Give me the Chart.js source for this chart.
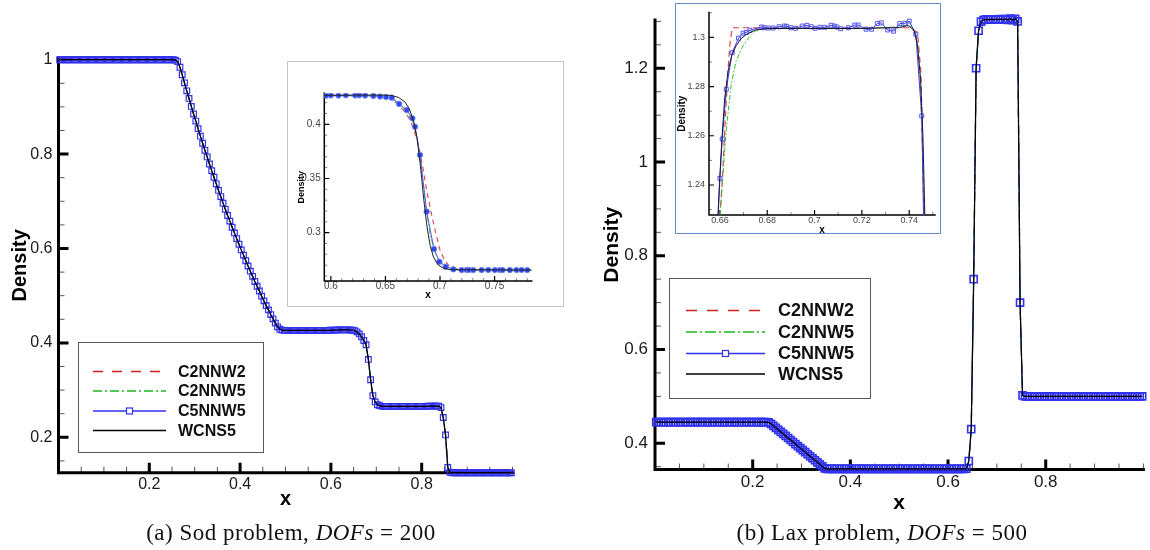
<!DOCTYPE html>
<html>
<head>
<meta charset="utf-8">
<script src="https://cdn.jsdelivr.net/npm/chart.js@4.4.1/dist/chart.umd.min.js"></script>
<style>
  html, body { margin: 0; padding: 0; background: #fff; }
  body { width: 1150px; height: 550px; position: relative; overflow: hidden; }
  .holder { position: absolute; }
  .frame { position: absolute; background: #fff; box-sizing: border-box; }
  .cap { position: absolute; font-family: 'Liberation Serif', serif; font-size: 23px; letter-spacing: 0.5px;
         white-space: nowrap; color: #111; transform: translateX(-50%); line-height: 26px; }
</style>
</head>
<body>
<div class="holder" style="left:0;top:0;width:570px;height:530px"><canvas id="sodMain"></canvas></div>
<div class="holder" style="left:590px;top:0;width:560px;height:530px"><canvas id="laxMain"></canvas></div>
<div class="frame" style="left:287px;top:61px;width:277px;height:246px;border:1px solid #c4c4c4"></div>
<div class="holder" style="left:288px;top:62px;width:275px;height:244px"><canvas id="sodZoom"></canvas></div>
<div class="frame" style="left:675px;top:3px;width:266px;height:231px;border:1px solid #6a89c8"></div>
<div class="holder" style="left:676px;top:4px;width:264px;height:231px"><canvas id="laxZoom"></canvas></div>
<div class="cap" style="left:291px;top:520px">(a) Sod problem, <i>DOFs</i> = 200</div>
<div class="cap" style="left:882px;top:520px">(b) Lax problem, <i>DOFs</i> = 500</div>
<script>
// ---- data ----
const seriesNames = ['C2NNW2', 'C2NNW5', 'C5NNW5', 'WCNS5'];

// Sod, 200 cells (cell centres)
const sodRho = [
  1,1,1,1,1,1,1,1,1,1, 1,1,1,1,1,1,1,1,1,1, 1,1,1,1,1,1,1,1,1,1, 1,1,1,1,1,1,1,1,1,1,
  1,1,1,1,1,1,1,1,1,1, 1,0.999,
  0.996,0.984,0.968,0.951,0.934,0.918,0.901,0.885,0.870,0.854,
  0.838,0.823,0.808,0.794,0.779,0.765,0.751,0.737,0.723,0.710,
  0.696,0.683,0.670,0.658,0.645,0.633,0.621,0.609,0.597,0.586,
  0.574,0.563,0.552,0.541,0.530,0.520,0.510,0.499,0.489,0.479,
  0.470,0.460,0.451,0.442,0.434,0.429,0.427,
  0.4265,0.4265,0.4265,0.4265,0.4265,0.4265,0.4265,0.4265,0.4265,0.4265,
  0.4265,0.4265,0.4265,0.4265,0.4265,0.4265,0.4265,0.4265,0.4265,0.4265,
  0.4268,0.427,0.4272,0.4273,0.4275,0.4276,0.4277,0.4277,0.4276,0.4273,0.4268,0.426,
  0.4235,0.419,0.413,0.405,0.396,0.365,0.322,0.288,0.275,0.269,0.267,
  0.2656,0.2656,0.2656,0.2656,0.2656,0.2656,0.2656,0.2656,0.2656,0.2656,
  0.2656,0.2656,0.2656,0.2656,0.2656,0.2656,0.2656,0.2656,0.2656,0.2656,
  0.2658,0.266,0.2662,0.2663,0.2662,0.266,
  0.263,0.242,0.205,0.136,0.126,
  0.125,0.125,0.125,0.125,0.125,0.125,0.125,0.125,0.125,0.125,
  0.125,0.125,0.125,0.125,0.125,0.125,0.125,0.125,0.125,0.125,
  0.125,0.125,0.125,0.125,0.125,0.125,0.125
];
const sodX = sodRho.map((v, i) => (i + 0.5) / sodRho.length);

// Lax, drawn on a 200-cell mesh
const laxRho = [
  0.445,0.445,0.445,0.445,0.445,0.445,0.445,0.445,0.445,0.445,
  0.445,0.445,0.445,0.445,0.445,0.445,0.445,0.445,0.445,0.445,
  0.445,0.445,0.445,0.445,0.445,0.445,0.445,0.445,0.445,0.445,
  0.445,0.445,0.445,0.445,0.445,0.445,0.445,0.445,0.445,0.445,
  0.445,0.445,0.445,0.445,0.445,0.445, 0.4445,
  0.4415,0.4372,0.4329,0.4286,0.4242,0.4199,0.4156,0.4112,0.4069,0.4026,
  0.3983,0.3939,0.3896,0.3853,0.381,0.3766,0.3723,0.368,0.3637,0.3593,0.355,0.3505,0.3465,
  0.3455,0.3455,0.3455,0.3455,0.3455,0.3455,0.3455,0.3455,0.3455,0.3455,
  0.3455,0.3455,0.3455,0.3455,0.3455,0.3455,0.3455,0.3455,0.3455,0.3455,
  0.3455,0.3455,0.3455,0.3455,0.3455,0.3455,0.3455,0.3455,0.3455,0.3455,
  0.3455,0.3455,0.3455,0.3455,0.3455,0.3455,0.3455,0.3455,0.3455,0.3455,
  0.3455,0.3455,0.3455,0.3455,0.3455,0.3455,0.3455,0.3455,0.3455,0.3455,
  0.3455,0.3455,0.3455,0.3455,0.3455,0.3455,0.3455,0.3458,
  0.362,0.43,0.75,1.2,1.28,1.2997,
  1.303,1.3042,1.3038,1.3046,1.3037,1.3046,1.3041,1.3048,1.3037,1.305,1.3033,1.3058,1.3028,1.3056,
  1.30,0.70,0.502,
  0.5,0.5,0.5,0.5,0.5,0.5,0.5,0.5,0.5,0.5, 0.5,0.5,0.5,0.5,0.5,0.5,0.5,0.5,0.5,0.5,
  0.5,0.5,0.5,0.5,0.5,0.5,0.5,0.5,0.5,0.5, 0.5,0.5,0.5,0.5,0.5,0.5,0.5,0.5,0.5,0.5,
  0.5,0.5,0.5,0.5,0.5,0.5,0.5,0.5,0.5
];
const laxX = laxRho.map((v, i) => (i + 0.5) / laxRho.length);

// Sod close-up near the contact
const sodZoomX2 = [0.594,0.62,0.64,0.65,0.656,0.663,0.668,0.672,0.676,0.680,0.684,0.688,0.692,0.696,0.700,0.704,0.708,0.713,0.72,0.784];
const sodZoomY2 = [0.4265,0.4262,0.4258,0.425,0.423,0.417,0.411,0.405,0.395,0.382,0.362,0.338,0.318,0.300,0.284,0.275,0.2695,0.267,0.2657,0.2656];
const sodZoomX5 = [0.594,0.64,0.65,0.658,0.664,0.67,0.675,0.679,0.683,0.687,0.691,0.695,0.699,0.704,0.71,0.72,0.784];
const sodZoomY5 = [0.4265,0.4262,0.425,0.4225,0.418,0.411,0.402,0.388,0.36,0.325,0.298,0.283,0.275,0.2695,0.267,0.2658,0.2656];
const sodZoomXC5 = [0.5957,0.6,0.607,0.6137,0.6223,0.6259,0.6314,0.639,0.6451,0.6506,0.6558,0.6625,0.6695,0.6747,0.6771,0.6817,0.6878,
  0.6945,0.6994,0.7052,0.7122,0.7198,0.7244,0.7265,0.7305,0.7381,0.7442,0.7503,0.7549,0.7573,0.764,0.7701,0.7747,0.7799];
const sodZoomYC5 = [0.4265,0.4267,0.4266,0.4268,0.4267,0.4268,0.4266,0.4262,0.4256,0.4252,0.4246,0.4188,0.4132,0.4055,0.3978,0.3717,0.3194,
  0.2849,0.2732,0.2686,0.2662,0.2655,0.2656,0.2656,0.2655,0.2655,0.2656,0.2655,0.2656,0.2655,0.2655,0.2655,0.2656,0.2655];
const sodZoomXW = [0.594,0.62,0.64,0.655,0.662,0.668,0.672,0.676,0.679,0.682,0.685,0.688,0.691,0.694,0.698,0.703,0.71,0.784];
const sodZoomYW = [0.4267,0.4269,0.427,0.4267,0.4248,0.4205,0.414,0.402,0.387,0.362,0.332,0.306,0.288,0.2775,0.2705,0.2672,0.2658,0.2655];

// Lax close-up of the plateau
const laxZoomX2 = [0.6597,0.6601,0.6612,0.6622,0.6632,0.6642,0.6652,0.67,0.74,0.7435,0.745,0.7462,0.7466];
const laxZoomY2 = [1.215,1.2278,1.245,1.265,1.283,1.297,1.3039,1.3039,1.3039,1.302,1.285,1.2278,1.215];
const laxZoomX5 = [0.6598,0.6601,0.6614,0.6627,0.6648,0.6668,0.6695,0.6723,0.675,0.6791,0.70,0.72,0.735,0.7395,0.742,0.7435,0.7445,0.7455,0.7465,0.7469];
const laxZoomY5 = [1.215,1.2278,1.2456,1.2626,1.281,1.2902,1.2961,1.300,1.3026,1.3038,1.3038,1.3037,1.3042,1.3052,1.3035,1.298,1.285,1.26,1.2278,1.215];
const laxZoomXC5 = [0.6587,0.66,0.661,0.6627,0.6652,0.6679,0.6698,0.6712,0.6727,0.6777,0.6787,0.6805,0.6825,0.685,0.6873,0.6882,0.69,0.692,
  0.6948,0.6968,0.6986,0.7002,0.7023,0.7043,0.707,0.7084,0.7094,0.7111,0.7143,0.717,0.7184,0.7218,0.7241,0.7265,0.7282,0.7309,0.7334,
  0.736,0.7382,0.74,0.7428,0.7453,0.7463];
const laxZoomYC5 = [1.215,1.2427,1.2587,1.2789,1.2938,1.2997,1.3017,1.302,1.3029,1.3042,1.3039,1.3038,1.3038,1.3043,1.3046,1.3045,1.3039,1.3037,
  1.3046,1.3049,1.3043,1.3037,1.3041,1.3041,1.3049,1.3046,1.3042,1.3035,1.3039,1.305,1.305,1.3033,1.3033,1.3056,1.3059,1.303,1.3025,
  1.3056,1.3057,1.3066,1.3013,1.2681,1.215];
const laxZoomXW = [0.6588,0.6592,0.6598,0.6608,0.662,0.6635,0.665,0.6668,0.669,0.6709,0.675,0.68,0.72,0.736,0.7395,0.742,0.7435,0.7448,0.7458,0.7466,0.7469];
const laxZoomYW = [1.215,1.2278,1.24,1.258,1.275,1.2865,1.2925,1.2965,1.2995,1.301,1.303,1.3036,1.3036,1.304,1.3048,1.303,1.297,1.283,1.26,1.2278,1.215];

// tick labels
const sodXTicks = [0.2, 0.4, 0.6, 0.8];
const sodYTicks = [0.2, 0.4, 0.6, 0.8, 1];
const laxXTicks = [0.2, 0.4, 0.6, 0.8];
const laxYTicks = [0.4, 0.6, 0.8, 1, 1.2];
const sodZoomXTicks = [0.6, 0.65, 0.7, 0.75];
const sodZoomYTicks = [0.3, 0.35, 0.4];
const laxZoomXTicks = [0.66, 0.68, 0.7, 0.72, 0.74];
const laxZoomYTicks = [1.24, 1.26, 1.28, 1.3];

// ---- drawing ----
const RED = '#d21f1f', GREEN = '#1db51d', BLUE = '#3232f0', BLACK = '#000';
const SANS = "'Liberation Sans', Arial, sans-serif";

function pts(xs, ys) { return xs.map((x, i) => ({ x: x, y: ys[i] })); }

function minorValues(min, max, step, majors) {
  let out = [];
  for (let k = Math.ceil(min / step - 1e-6); k * step <= max + 1e-9; k++) {
    let v = k * step;
    if (!majors.some(m => Math.abs(m - v) < step / 10)) out.push(v);
  }
  return out;
}

const texAxes = {
  id: 'texAxes',
  beforeDatasetsDraw(chart, args, o) {
    let ctx = chart.ctx, a = chart.chartArea, sx = chart.scales.x, sy = chart.scales.y;
    ctx.save();
    ctx.lineCap = 'butt';
    ctx.strokeStyle = o.minorColor;
    ctx.lineWidth = o.minorWidth;
    ctx.beginPath();
    minorValues(sx.min, sx.max, o.xMinor, o.xMajor).forEach(v => {
      let p = sx.getPixelForValue(v);
      ctx.moveTo(p, a.bottom); ctx.lineTo(p, a.bottom - o.minorLen);
    });
    minorValues(sy.min, sy.max, o.yMinor, o.yMajor).forEach(v => {
      let p = sy.getPixelForValue(v);
      ctx.moveTo(a.left, p); ctx.lineTo(a.left + o.minorLen, p);
    });
    ctx.stroke();
    ctx.strokeStyle = '#000';
    ctx.lineWidth = o.majorWidth;
    ctx.beginPath();
    o.xMajor.forEach(v => {
      let p = sx.getPixelForValue(v);
      ctx.moveTo(p, a.bottom); ctx.lineTo(p, a.bottom - o.majorLen);
    });
    o.yMajor.forEach(v => {
      let p = sy.getPixelForValue(v);
      ctx.moveTo(a.left, p); ctx.lineTo(a.left + o.majorLen, p);
    });
    ctx.stroke();
    ctx.lineWidth = o.axisWidth;
    ctx.lineCap = 'square';
    ctx.beginPath();
    ctx.moveTo(a.left, a.top); ctx.lineTo(a.left, a.bottom); ctx.lineTo(a.right, a.bottom);
    ctx.stroke();
    ctx.restore();
  }
};

const boxLegend = {
  id: 'boxLegend',
  afterDatasetsDraw(chart, args, o) {
    if (!o.box) return;
    let ctx = chart.ctx, b = o.box;
    ctx.save();
    ctx.fillStyle = '#fff';
    ctx.fillRect(b[0], b[1], b[2], b[3]);
    ctx.strokeStyle = '#5a5a5a';
    ctx.lineWidth = 1;
    ctx.strokeRect(b[0] + 0.5, b[1] + 0.5, b[2], b[3]);
    ctx.font = 'bold ' + o.fontSize + 'px ' + SANS;
    ctx.textBaseline = 'middle';
    chart.data.datasets.forEach((ds, i) => {
      let y = o.rows[i] + 0.5;
      ctx.strokeStyle = ds.borderColor;
      ctx.lineWidth = 1.5;
      ctx.setLineDash(o.dashes[i]);
      ctx.beginPath();
      ctx.moveTo(o.line[0], y); ctx.lineTo(o.line[1], y);
      ctx.stroke();
      ctx.setLineDash([]);
      if (ds.pointRadius > 0) {
        let m = (o.line[0] + o.line[1]) / 2;
        ctx.fillStyle = '#fff';
        ctx.fillRect(m - 3, y - 3, 6, 6);
        ctx.lineWidth = 1.2;
        ctx.strokeRect(m - 3, y - 3, 6, 6);
      }
      ctx.fillStyle = '#111';
      ctx.fillText(ds.label, o.textX, y + 1);
    });
    ctx.restore();
  }
};

function mainSets(xs, ys, markRadius, markWidth) {
  let d = pts(xs, ys);
  return [
    { label: seriesNames[0], data: d, borderColor: RED, borderWidth: 1.3, borderDash: [9, 8], pointRadius: 0, order: 3, clip: false },
    { label: seriesNames[1], data: d, borderColor: GREEN, borderWidth: 1.3, borderDash: [10, 3, 2, 3], pointRadius: 0, order: 2, clip: false },
    { label: seriesNames[2], data: d, borderColor: BLUE, borderWidth: 1, pointStyle: 'rect', pointRadius: markRadius,
      pointBorderColor: BLUE, pointBackgroundColor: 'rgba(255,255,255,0)', pointBorderWidth: markWidth, order: 1, clip: false },
    { label: seriesNames[3], data: d, borderColor: BLACK, borderWidth: 1.2, pointRadius: 0, order: 0, clip: false }
  ];
}

function axisOpts(cfg) {
  let tickFont = { family: SANS, size: cfg.tickSize, lineHeight: cfg.lineH };
  let titleFont = { family: SANS, size: cfg.titleSize, weight: 'bold', lineHeight: cfg.lineH };
  return {
    x: {
      type: 'linear', min: cfg.x[0], max: cfg.x[1],
      grid: { display: false, drawTicks: false }, border: { display: false },
      afterBuildTicks: s => { s.ticks = cfg.xTicks.map(v => ({ value: v })); },
      afterFit: s => { s.height = cfg.xH; },
      ticks: { font: tickFont, color: cfg.tickColor, padding: cfg.xPad, maxRotation: 0, autoSkip: false, callback: v => String(v) },
      title: { display: true, text: 'x', font: titleFont, color: '#000', padding: { top: 0, bottom: cfg.xTitlePad } }
    },
    y: {
      type: 'linear', min: cfg.y[0], max: cfg.y[1],
      grid: { display: false, drawTicks: false }, border: { display: false },
      afterBuildTicks: s => { s.ticks = cfg.yTicks.map(v => ({ value: v })); },
      afterFit: s => { s.width = cfg.yW; },
      ticks: { font: tickFont, color: cfg.tickColor, padding: cfg.yPad, autoSkip: false, callback: v => String(v) },
      title: { display: true, text: 'Density', font: { family: SANS, size: cfg.yTitleSize, weight: 'bold', lineHeight: cfg.lineH },
               color: '#000', padding: { top: cfg.yTitlePad, bottom: 0 } }
    }
  };
}

function makeChart(id, datasets, scales, padding, axes, legend) {
  return new Chart(document.getElementById(id), {
    type: 'line',
    data: { datasets: datasets },
    options: {
      responsive: true, maintainAspectRatio: false, animation: false, events: [],
      layout: { padding: padding },
      scales: scales,
      plugins: { legend: { display: false }, tooltip: { enabled: false }, texAxes: axes, boxLegend: legend || {} }
    },
    plugins: [texAxes, boxLegend]
  });
}

const mainAxes = (xT, yT) => ({ xMajor: xT, yMajor: yT, xMinor: 0.05, yMinor: 0.05, axisWidth: 3, majorWidth: 3, majorLen: 10,
  minorWidth: 1, minorLen: 6, minorColor: '#555' });

// (a) Sod main
makeChart('sodMain', mainSets(sodX, sodRho, 4, 1.2),
  axisOpts({ x: [0, 1], y: [0.125, 1.0036], xTicks: sodXTicks, yTicks: sodYTicks, tickSize: 16, titleSize: 20, yTitleSize: 20,
    lineH: 1.2, tickColor: '#1a1a1a', xH: 40, xPad: 2, xTitlePad: 1, yW: 58.5, yPad: 6, yTitlePad: 8 }),
  { left: 0, top: 58, right: 57.5, bottom: 17.3 },
  mainAxes(sodXTicks, sodYTicks),
  { box: [78, 342, 185, 110], line: [93, 166], textX: 178, rows: [371, 390.5, 410.5, 430], fontSize: 16,
    dashes: [[10, 9], [9, 3, 2, 3], [], []] });

// (b) Lax main
makeChart('laxMain', mainSets(laxX, laxRho, 5, 1.6),
  axisOpts({ x: [0, 1], y: [0.344, 1.303], xTicks: laxXTicks, yTicks: laxYTicks, tickSize: 17, titleSize: 21, yTitleSize: 21,
    lineH: 1.2, tickColor: '#1a1a1a', xH: 50, xPad: 3, xTitlePad: 3.6, yW: 65, yPad: 7, yTitlePad: 9.4 }),
  { left: 0, top: 20, right: 0, bottom: 10.5 },
  mainAxes(laxXTicks, laxYTicks),
  { box: [669, 278, 201, 120].map((v, i) => i === 0 ? v - 590 : v), line: [686 - 590, 765 - 590], textX: 778 - 590,
    rows: [310, 331.5, 353, 373.5], fontSize: 18, dashes: [[11, 10], [11, 3, 2, 3], [], []] });

// close-ups
const zoomAxes = (xT, yT, xm, ym) => ({ xMajor: xT, yMajor: yT, xMinor: xm, yMinor: ym, axisWidth: 1.5, majorWidth: 1.2, majorLen: 5,
  minorWidth: 0.8, minorLen: 3, minorColor: '#666' });

makeChart('sodZoom', [
    { label: seriesNames[0], data: pts(sodZoomX2, sodZoomY2), borderColor: '#e05050', borderWidth: 1.2, borderDash: [5, 4], pointRadius: 0, order: 3 },
    { label: seriesNames[1], data: pts(sodZoomX5, sodZoomY5), borderColor: '#39c039', borderWidth: 1, borderDash: [6, 2, 1.5, 2], pointRadius: 0, order: 2 },
    { label: seriesNames[2], data: pts(sodZoomXC5, sodZoomYC5), borderColor: '#4a5cf2', borderWidth: 1, pointStyle: 'circle', pointRadius: 2.8,
      pointBackgroundColor: '#2f48ee', pointBorderColor: '#7d8ff5', pointBorderWidth: 0.8, order: 1 },
    { label: seriesNames[3], data: pts(sodZoomXW, sodZoomYW), borderColor: '#222', borderWidth: 1, pointRadius: 0, order: 0 }
  ],
  axisOpts({ x: [0.594, 0.784], y: [0.2554, 0.4286], xTicks: sodZoomXTicks, yTicks: sodZoomYTicks, tickSize: 10, titleSize: 10, yTitleSize: 9,
    lineH: 1, tickColor: '#444', xH: 25, xPad: 0, xTitlePad: 6, yW: 36.3, yPad: 3.6, yTitlePad: 9 }),
  { left: 0, top: 31.3, right: 31.3, bottom: 0 },
  zoomAxes(sodZoomXTicks, sodZoomYTicks, 0.01, 0.01));

makeChart('laxZoom', [
    { label: seriesNames[0], data: pts(laxZoomX2, laxZoomY2), borderColor: '#d44', borderWidth: 1.2, borderDash: [6, 4], pointRadius: 0, order: 3 },
    { label: seriesNames[1], data: pts(laxZoomX5, laxZoomY5), borderColor: '#2ec02e', borderWidth: 1, borderDash: [5, 2, 1.5, 2], pointRadius: 0, order: 2 },
    { label: seriesNames[2], data: pts(laxZoomXC5, laxZoomYC5), borderColor: '#3a3ae6', borderWidth: 1, pointStyle: 'rect', pointRadius: 2.8,
      pointBackgroundColor: 'rgba(255,255,255,0)', pointBorderColor: '#5656ee', pointBorderWidth: 1, order: 1 },
    { label: seriesNames[3], data: pts(laxZoomXW, laxZoomYW), borderColor: '#1a1a3a', borderWidth: 1, pointRadius: 0, order: 0 }
  ],
  axisOpts({ x: [0.6554, 0.7509], y: [1.2278, 1.3101], xTicks: laxZoomXTicks, yTicks: laxZoomYTicks, tickSize: 9, titleSize: 10, yTitleSize: 10,
    lineH: 1, tickColor: '#444', xH: 20, xPad: 1, xTitlePad: 0, yW: 33, yPad: 4, yTitlePad: 1.3 }),
  { left: 0, top: 2, right: 1.7, bottom: 0 },
  zoomAxes(laxZoomXTicks, laxZoomYTicks, 0.01, 0.01));
</script>
</body>
</html>
